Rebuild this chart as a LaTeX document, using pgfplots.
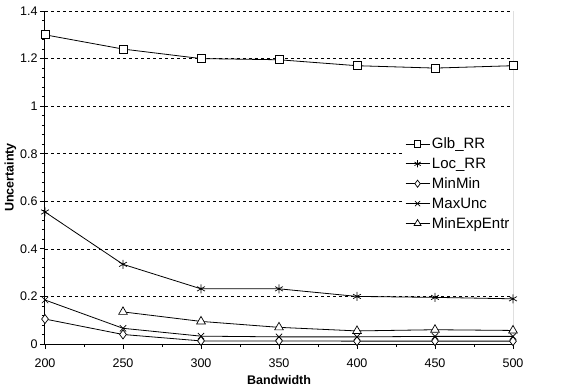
\documentclass[border=0pt]{standalone}
\usepackage{pgfplots}
\pgfplotsset{compat=1.18}
\usepackage{fontspec}
\setmainfont{Liberation Sans}
\begin{document}
\begin{tikzpicture}
\begin{axis}[
  name=ax,
  scale only axis,
  width=468pt, height=333pt,
  xmin=200, xmax=500, ymin=0, ymax=1.4,
  xtick={200,250,...,500},
  ytick={0,0.2,...,1.4},
  yticklabels={0,0.2,0.4,0.6,0.8,1,1.2,1.4},
  minor x tick num=1,
  minor y tick num=4,
  tick align=outside,
  major tick length=5pt,
  minor tick length=3pt,
  axis x line*=bottom,
  axis y line*=left,
  axis line style={-, line width=1pt},
  tick style={black, line width=0.8pt},
  ymajorgrids,
  major grid style={black, dashed, line width=0.6pt},
  /pgf/number format/assume math mode=true,
  ticklabel style={font=\fontsize{12.5}{14}\selectfont},
  yticklabel style={xshift=1pt},
  xticklabel style={yshift=-6pt},
  xlabel={\textbf{Bandwidth}},
  ylabel={\textbf{Uncertainty}},
  label style={font=\fontsize{12.5}{14}\selectfont},
  xlabel style={yshift=-1pt},
  ylabel style={yshift=-3pt},
  legend style={draw=none, fill=white, at={(0.765,0.632)}, anchor=north west,
    font=\fontsize{15}{17}\selectfont, row sep=3.8pt, inner sep=2pt},
  legend cell align=left,
  legend image code/.code={
    \draw[mark=none] (0cm,0cm) -- (0.84cm,0cm);
    \draw[only marks, every mark/.append style={scale=0.8}] plot coordinates {(0.42cm,0cm)};
  },
  every axis plot/.append style={black, line width=0.8pt, mark options={solid, fill=white, line width=0.7pt}},
]
\draw[black, line width=1pt] (rel axis cs:1,0) -- (rel axis cs:1,1);
\addplot[mark=square*, mark size=4pt] coordinates {(200,1.30) (250,1.24) (300,1.20) (350,1.195) (400,1.17) (450,1.16) (500,1.17)};
\addlegendentry{Glb\_RR}
\addplot[mark=asterisk, mark size=4.5pt] coordinates {(200,0.555) (250,0.335) (300,0.232) (350,0.232) (400,0.20) (450,0.196) (500,0.19)};
\addlegendentry{Loc\_RR}
\addplot[mark=diamond*, mark size=4.5pt] coordinates {(200,0.105) (250,0.04) (300,0.013) (350,0.013) (400,0.012) (450,0.012) (500,0.012)};
\addlegendentry{MinMin}
\addplot[mark=x, mark size=4.5pt] coordinates {(200,0.185) (250,0.066) (300,0.033) (350,0.03) (400,0.03) (450,0.032) (500,0.032)};
\addlegendentry{MaxUnc}
\addplot[mark=triangle*, mark size=5pt] coordinates {(250,0.135) (300,0.095) (350,0.07) (400,0.055) (450,0.06) (500,0.057)};
\addlegendentry{MinExpEntr}
\end{axis}
\pgfresetboundingbox
\path[use as bounding box] ([shift={(-45pt,-45pt)}]ax.south west) rectangle ([shift={(63pt,11pt)}]ax.north east);
\end{tikzpicture}
\end{document}
